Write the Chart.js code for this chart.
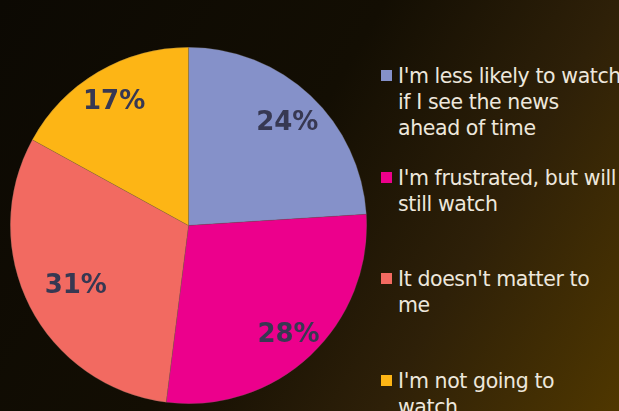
<!DOCTYPE html>
<html>
<head>
<meta charset="utf-8">
<script src="https://cdn.jsdelivr.net/npm/chart.js@4/dist/chart.umd.min.js"></script>
<style>
  html, body { margin: 0; padding: 0; }
  body {
    width: 619px; height: 411px; overflow: hidden; position: relative;
    background: linear-gradient(120deg, #0c0903 0%, #130e03 45%, #2e2008 72%, #4f3700 100%);
    font-family: 'DejaVu Sans', sans-serif;
  }
  #pie-wrap { position: absolute; left: 10px; top: 47px; width: 357px; height: 357px; }
  #legend { position: absolute; left: 381px; top: 63px; width: 300px; }
  .leg-item { position: relative; height: 101.5px; padding-left: 17px; }
  .leg-box { position: absolute; left: 0; top: 7px; width: 11px; height: 11px; }
  .leg-text { color: #ede7dc; font-size: 20.5px; line-height: 26px; letter-spacing: -0.4px; white-space: nowrap; }
</style>
</head>
<body>
<div id="pie-wrap"><canvas id="pie"></canvas></div>
<div id="legend"></div>
<script>
// datos del gráfico
const categories = [
  ["I'm less likely to watch", "if I see the news", "ahead of time"],
  ["I'm frustrated, but will", "still watch"],
  ["It doesn't matter to", "me"],
  ["I'm not going to", "watch"]
];
const values = [24, 28, 31, 17];
const colors = ['#8591c9', '#ec008c', '#f26a61', '#fdb515'];

// distancia de cada etiqueta al centro (fracción del radio)
const labelRadius = [0.81, 0.82, 0.71, 0.82];

// etiquetas % dentro de cada porción
const sliceLabels = {
  id: 'sliceLabels',
  afterDatasetsDraw(chart) {
    const ctx = chart.ctx;
    const meta = chart.getDatasetMeta(0);
    ctx.save();
    ctx.font = 'bold 26px "DejaVu Sans", sans-serif';
    ctx.fillStyle = '#373852';
    ctx.textAlign = 'center';
    ctx.textBaseline = 'middle';
    meta.data.forEach((arc, i) => {
      const p = arc.getProps(['x', 'y', 'startAngle', 'endAngle', 'outerRadius'], true);
      const mid = (p.startAngle + p.endAngle) / 2;
      const r = p.outerRadius * labelRadius[i];
      ctx.fillText(values[i] + '%', p.x + Math.cos(mid) * r, p.y + Math.sin(mid) * r + 3);
    });
    ctx.restore();
  }
};

new Chart(document.getElementById('pie'), {
  type: 'pie',
  data: {
    labels: categories,
    datasets: [{
      data: values,
      backgroundColor: colors,
      borderColor: 'rgba(110, 100, 90, 0.45)',
      borderWidth: 0.6
    }]
  },
  options: {
    responsive: true,
    maintainAspectRatio: false,
    animation: false,
    layout: { padding: 0 },
    plugins: {
      legend: { display: false },
      tooltip: { enabled: false }
    }
  },
  plugins: [sliceLabels]
});

// leyenda en HTML
const legend = document.getElementById('legend');
categories.forEach((lines, i) => {
  const item = document.createElement('div');
  item.className = 'leg-item';
  item.innerHTML = `<span class="leg-box" style="background:${colors[i]}"></span>` +
    `<div class="leg-text">${lines.join('<br>')}</div>`;
  legend.appendChild(item);
});
</script>
</body>
</html>
